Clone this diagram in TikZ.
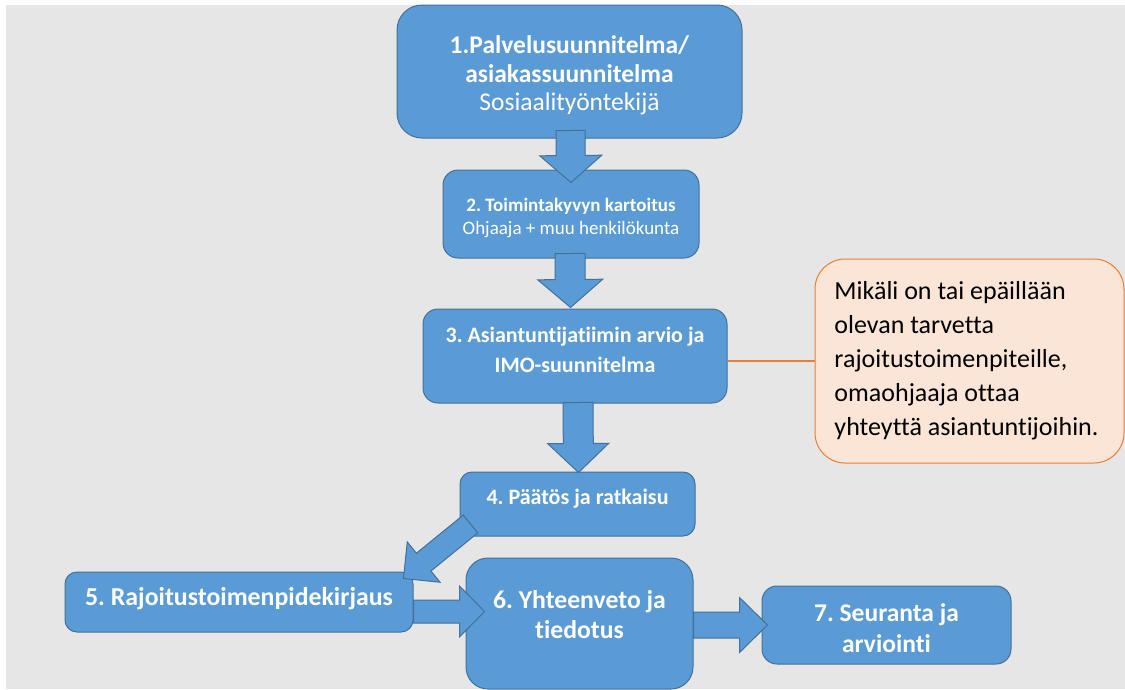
\documentclass[tikz,border=0pt]{standalone}
\usepackage{fontspec}
\setmainfont{Carlito}[Ligatures=NoCommon]
\frenchspacing
\usetikzlibrary{calc}
\definecolor{boxblue}{HTML}{5B9BD5}
\definecolor{boxedge}{HTML}{41719C}
\definecolor{noteedge}{HTML}{ED7D31}
\definecolor{notefill}{HTML}{FBE5D6}
\definecolor{backgray}{HTML}{E6E6E6}
\tikzset{
  stepbox/.style={draw=boxedge, fill=boxblue, line width=1pt, inner sep=0pt},
  steptext/.style={text=white, align=center, inner sep=0pt},
  notebox/.style={draw=noteedge, fill=notefill, line width=1pt, rounded corners=30pt, inner sep=0pt},
  fatarrow/.style={draw=boxedge, fill=boxblue, line width=1pt}
}
% #1 half shaft, #2 half head, #3 head length, #4 from, #5 to
\newcommand{\flowarrow}[5]{%
  \path (#4) coordinate (fa-s) (#5) coordinate (fa-t);
  \path ($(fa-t)!#3!(fa-s)$) coordinate (fa-h);
  \draw[fatarrow] ($(fa-s)!#1!90:(fa-t)$) -- ($(fa-h)!#1!90:(fa-t)$) -- ($(fa-h)!#2!90:(fa-t)$)
    -- (fa-t) -- ($(fa-h)!#2!-90:(fa-t)$) -- ($(fa-h)!#1!-90:(fa-t)$) -- ($(fa-s)!#1!-90:(fa-t)$) -- cycle;
}
\begin{document}
\begin{tikzpicture}[x=1pt,y=-1pt]
\useasboundingbox (0,0) rectangle (1125,689);
\fill[backgray] (6,5) rectangle (1125,689);
\node[stepbox, minimum width=345pt, minimum height=133pt, rounded corners=25pt,
  label={[steptext, font=\fontsize{25.5}{28.5}\selectfont, yshift=-4pt]center:\textbf{1.Palvelusuunnitelma/}\\\textbf{asiakassuunnitelma}\\Sosiaalityöntekijä}] (b1) at (569.5,71.5) {};
\node[stepbox, minimum width=256pt, minimum height=88pt, rounded corners=15pt,
  label={[steptext, font=\fontsize{19}{23}\selectfont, yshift=-4pt]center:\textbf{2. Toimintakyvyn kartoitus}\\Ohjaaja + muu henkilökunta}] (b2) at (571,214) {};
\node[stepbox, minimum width=304pt, minimum height=94pt, rounded corners=15pt,
  label={[steptext, font=\bfseries\fontsize{22}{30}\selectfont, yshift=6pt]center:3. Asiantuntijatiimin arvio ja\\IMO-suunnitelma}] (b3) at (575,356) {};
\node[stepbox, minimum width=235pt, minimum height=64pt, rounded corners=12pt,
  label={[steptext, font=\bfseries\fontsize{22}{26}\selectfont, yshift=5pt]center:4. Päätös ja ratkaisu}] (b4) at (577.5,504) {};
\node[stepbox, minimum width=348pt, minimum height=60pt, rounded corners=12pt,
  label={[steptext, font=\bfseries\fontsize{25.8}{30}\selectfont, yshift=3pt]center:5. Rajoitustoimenpidekirjaus}] (b5) at (239,602) {};
\node[stepbox, minimum width=227pt, minimum height=131pt, rounded corners=22pt,
  label={[steptext, font=\bfseries\fontsize{25.7}{30}\selectfont, yshift=9pt]center:6. Yhteenveto ja\\tiedotus}] (b6) at (579.5,623.5) {};
\node[stepbox, minimum width=249pt, minimum height=78pt, rounded corners=15pt,
  label={[steptext, font=\bfseries\fontsize{25.5}{31}\selectfont, yshift=-3.5pt]center:7. Seuranta ja\\arviointi}] (b7) at (886.5,625) {};
\node[notebox, minimum width=309pt, minimum height=204pt,
  label={[align=left, inner sep=0pt, font=\fontsize{26}{34}\selectfont, xshift=-3pt]center:Mikäli on tai epäillään\\olevan tarvetta\\rajoitustoimenpiteille,\\omaohjaaja ottaa\\yhteyttä asiantuntijoihin.}] (note) at (969.5,361) {};
\draw[noteedge, line width=1.2pt] (note.west) -- (note.west -| b3.east);
\flowarrow{14.5pt}{31pt}{27pt}{$(b1.south)+(1,-8)$}{$(b2.north)+(0,13)$}
\flowarrow{15pt}{32.5pt}{28pt}{$(b2.south)+(-1,-5)$}{$(b3.north)+(-4.5,-1)$}
\flowarrow{15pt}{30.5pt}{29pt}{$(b3.south)+(3,-1)$}{$(b4.north)+(1,1)$}
\flowarrow{11.5pt}{26pt}{26pt}{$(b4.south west)+(11,-12.5)$}{$(b5.north east)+(-10,7)$}
\flowarrow{11.5pt}{25.5pt}{25pt}{$(b5.east)+(0,9.5)$}{$(b6.west)+(19,-12)$}
\flowarrow{13pt}{27.5pt}{28pt}{$(b6.east)+(0,1.5)$}{$(b7.west)+(6,0)$}
\end{tikzpicture}
\end{document}
